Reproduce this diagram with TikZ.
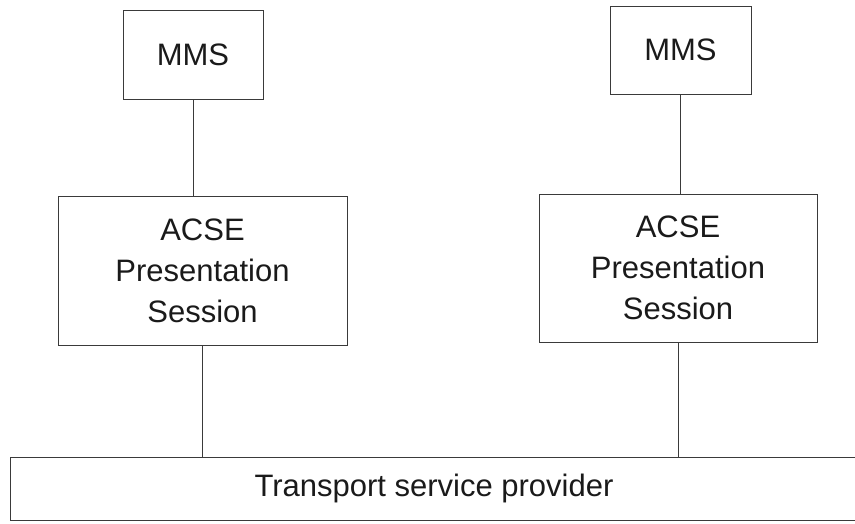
\documentclass[tikz,border=0pt]{standalone}
\usepackage{fontspec}
\setmainfont{Liberation Sans}
\usepackage{xcolor}
\usepackage{tikz}
\usetikzlibrary{calc}
\definecolor{ink}{HTML}{1A1A1A}
\definecolor{edge}{HTML}{3A3A3A}
\tikzset{
  layer/.style={draw=edge, line width=0.9pt, inner sep=0pt, align=center,
    text=ink, font=\fontsize{31}{41}\selectfont},
  link/.style={draw=edge, line width=0.9pt, line cap=round},
}

\begin{document}
\begin{tikzpicture}[x=1pt,y=-1pt]
  \useasboundingbox (0,0) rectangle (855,523);
  \clip (0,0) rectangle (855,523);
  \node[layer, minimum width=140pt, minimum height=89pt] (mmsL) at (193,54.5) {MMS};
  \node[layer, minimum width=141pt, minimum height=88pt] (mmsR) at (680.5,50) {MMS};
  \node[layer, minimum width=289pt, minimum height=149pt] (acseL) at (202.5,270.5)
    {ACSE\\Presentation\\Session};
  \node[layer, minimum width=278pt, minimum height=148pt] (acseR) at (678,268)
    {ACSE\\Presentation\\Session};
  \node[layer, minimum width=848pt, minimum height=63pt] (tsp) at (434,488.5)
    {Transport service provider};
  \draw[link] (mmsL.south) -- (mmsL.south |- acseL.north);
  \draw[link] (mmsR.south) -- (mmsR.south |- acseR.north);
  \draw[link] (acseL.south) -- (acseL.south |- tsp.north);
  \draw[link] (acseR.south) -- (acseR.south |- tsp.north);
\end{tikzpicture}
\end{document}
